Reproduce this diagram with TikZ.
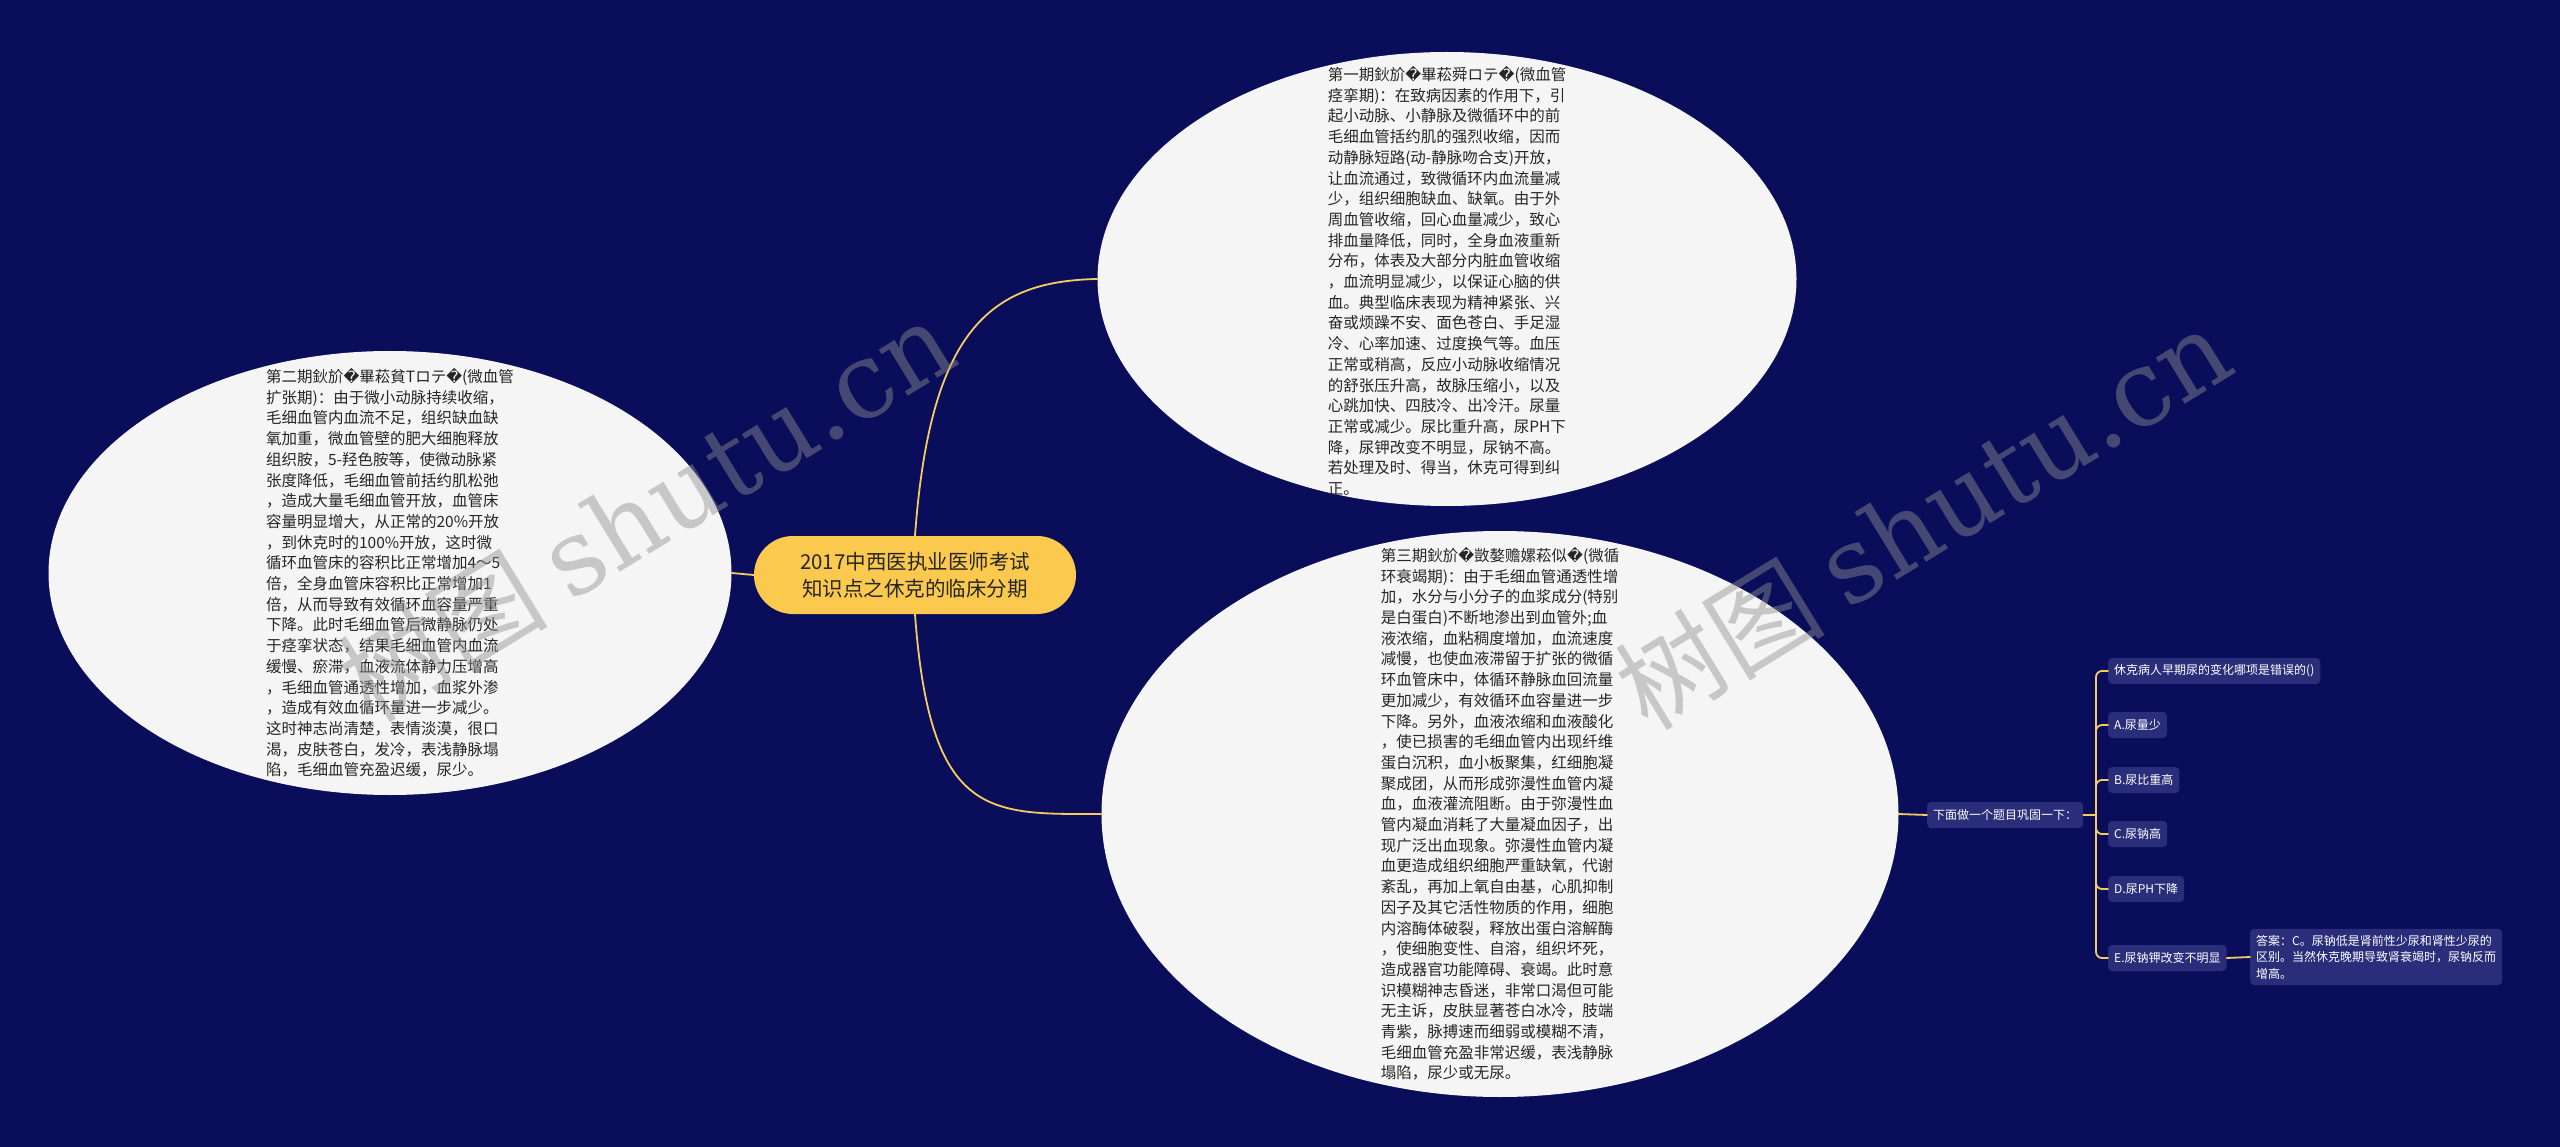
\documentclass[tikz,border=0pt]{standalone}
\usepackage{fontspec}
\setmainfont{Noto Sans CJK SC}
\newfontfamily\repfont{DejaVu Sans}
\newfontfamily\wmfont{DejaVu Serif}
\usetikzlibrary{shapes.geometric}
\definecolor{bgnavy}{RGB}{9,13,90}
\definecolor{cardgray}{RGB}{245,245,245}
\definecolor{pillyellow}{RGB}{251,201,78}
\definecolor{linkyellow}{RGB}{246,204,96}
\definecolor{leafblue}{RGB}{42,46,122}
\definecolor{inkdark}{RGB}{38,38,38}
\definecolor{wmgray}{RGB}{144,144,144}
\newcommand\qm{{\repfont\symbol{"FFFD}}}
\begin{document}
\begin{tikzpicture}[x=1pt, y=-1pt, line join=round, line cap=round,
  stage/.style={ellipse, fill=cardgray, inner sep=0pt},
  stagetext/.style={inner sep=0pt, align=left, text=inkdark, font=\fontsize{15.5}{20.7}\selectfont},
  topic/.style={fill=pillyellow, rounded corners=39pt, minimum width=322pt, minimum height=78pt,
    align=center, text=inkdark, font=\fontsize{20.5}{27}\selectfont},
  leaf/.style={fill=leafblue, rounded corners=4pt, text=white, anchor=west,
    inner xsep=6pt, inner ysep=0pt, minimum height=26pt, font=\fontsize{12}{16.5}\selectfont},
  link/.style={draw=linkyellow, line width=1.8pt},
  wm/.style={text=wmgray, opacity=0.45, font=\fontsize{105}{110}\selectfont, rotate=31.5}]
  \useasboundingbox (0,0) rectangle (2560,1147);
  \fill[bgnavy] (0,0) rectangle (2560,1147);

  % three stages
  \node[stage, minimum width=699pt, minimum height=454pt] (early) at (1447,279) {};
  \node[stage, minimum width=683pt, minimum height=444pt] (mid) at (390,573) {};
  \node[stage, minimum width=797pt, minimum height=566pt] (late) at (1500,814) {};

  \node[stagetext] (earlytxt) at (1447,281) {第一期鈥斺\qm 畢菘舜ロテ\qm (微血管\\
痉挛期)：在致病因素的作用下，引\\
起小动脉、小静脉及微循环中的前\\
毛细血管括约肌的强烈收缩，因而\\
动静脉短路(动-静脉吻合支)开放，\\
让血流通过，致微循环内血流量减\\
少，组织细胞缺血、缺氧。由于外\\
周血管收缩，回心血量减少，致心\\
排血量降低，同时，全身血液重新\\
分布，体表及大部分内脏血管收缩\\
，血流明显减少，以保证心脑的供\\
血。典型临床表现为精神紧张、兴\\
奋或烦躁不安、面色苍白、手足湿\\
冷、心率加速、过度换气等。血压\\
正常或稍高，反应小动脉收缩情况\\
的舒张压升高，故脉压缩小，以及\\
心跳加快、四肢冷、出冷汗。尿量\\
正常或减少。尿比重升高，尿PH下\\
降，尿钾改变不明显，尿钠不高。\\
若处理及时、得当，休克可得到纠\\
正。};

  \node[stagetext] (midtxt) at (mid.center) {第二期鈥斺\qm 畢菘貧Tロテ\qm (微血管\\
扩张期)：由于微小动脉持续收缩，\\
毛细血管内血流不足，组织缺血缺\\
氧加重，微血管壁的肥大细胞释放\\
组织胺，5-羟色胺等，使微动脉紧\\
张度降低，毛细血管前括约肌松弛\\
，造成大量毛细血管开放，血管床\\
容量明显增大，从正常的20\%开放\\
，到休克时的100\%开放，这时微\\
循环血管床的容积比正常增加4～5\\
倍，全身血管床容积比正常增加1\\
倍，从而导致有效循环血容量严重\\
下降。此时毛细血管后微静脉仍处\\
于痉挛状态，结果毛细血管内血流\\
缓慢、瘀滞，血液流体静力压增高\\
，毛细血管通透性增加，血浆外渗\\
，造成有效血循环量进一步减少。\\
这时神志尚清楚，表情淡漠，很口\\
渴，皮肤苍白，发冷，表浅静脉塌\\
陷，毛细血管充盈迟缓，尿少。};

  \node[stagetext] (latetxt) at (late.center) {第三期鈥斺\qm 敳嫯赡嫘菘似\qm (微循\\
环衰竭期)：由于毛细血管通透性增\\
加，水分与小分子的血浆成分(特别\\
是白蛋白)不断地渗出到血管外;血\\
液浓缩，血粘稠度增加，血流速度\\
减慢，也使血液滞留于扩张的微循\\
环血管床中，体循环静脉血回流量\\
更加减少，有效循环血容量进一步\\
下降。另外，血液浓缩和血液酸化\\
，使已损害的毛细血管内出现纤维\\
蛋白沉积，血小板聚集，红细胞凝\\
聚成团，从而形成弥漫性血管内凝\\
血，血液灌流阻断。由于弥漫性血\\
管内凝血消耗了大量凝血因子，出\\
现广泛出血现象。弥漫性血管内凝\\
血更造成组织细胞严重缺氧，代谢\\
紊乱，再加上氧自由基，心肌抑制\\
因子及其它活性物质的作用，细胞\\
内溶酶体破裂，释放出蛋白溶解酶\\
，使细胞变性、自溶，组织坏死，\\
造成器官功能障碍、衰竭。此时意\\
识模糊神志昏迷，非常口渴但可能\\
无主诉，皮肤显著苍白冰冷，肢端\\
青紫，脉搏速而细弱或模糊不清，\\
毛细血管充盈非常迟缓，表浅静脉\\
塌陷，尿少或无尿。};

  % centre
  \node[topic] (root) at (915,575) {2017中西医执业医师考试\\知识点之休克的临床分期};
  \draw[link] (root.north) .. controls (930,330) and (990,281) .. (early.west);
  \draw[link] (root.south) .. controls (930,820) and (990,814) .. (late.west);
  \draw[link] (root.west) -- (mid.east);

  % quiz branch
  \node[leaf] (quiz) at (1927,815) {下面做一个题目巩固一下：};
  \node[leaf] (q) at (2108,671) {休克病人早期尿的变化哪项是错误的()};
  \node[leaf] (a) at (2108,725) {A.尿量少};
  \node[leaf] (b) at (2108,780) {B.尿比重高};
  \node[leaf] (c) at (2108,834) {C.尿钠高};
  \node[leaf] (d) at (2108,889) {D.尿PH下降};
  \node[leaf] (e) at (2108,958) {E.尿钠钾改变不明显};
  \node[leaf, align=left, inner ysep=6pt] (ans) at (2250,957) {答案：C。尿钠低是肾前性少尿和肾性少尿的\\区别。当然休克晚期导致肾衰竭时，尿钠反而\\增高。};
  \coordinate (hub) at (2096,815);
  \draw[link] (late.east) -- (quiz.west);
  \draw[link] (quiz.east) -- (hub);
  \foreach \n in {q,a,b,c,d,e}
    \draw[link, rounded corners=6pt] (hub) |- (\n.west);
  \draw[link] (e.east) -- (ans.west);

  % watermark
  \node[wm] (wmleft) at (646,510) {树图 {\wmfont shutu.cn}};
  \node[wm] (wmright) at (1923,518) {树图 {\wmfont shutu.cn}};
\end{tikzpicture}
\end{document}
